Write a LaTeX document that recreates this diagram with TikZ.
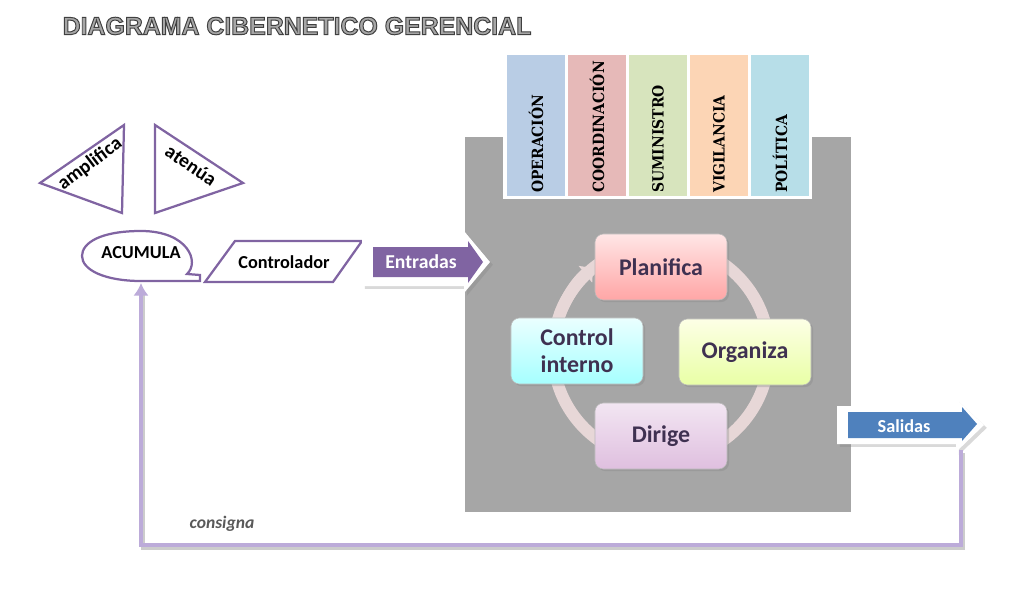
\documentclass[tikz,border=0pt]{standalone}
\usepackage{fontspec}
\setmainfont{Carlito}
\newfontfamily\titlefont{Liberation Sans}
\newfontfamily\colfont{DejaVu Serif}
\usetikzlibrary{shadows,
                 arrows.meta}
\definecolor{lila}{HTML}{8064A2}
\definecolor{lilaclaro}{HTML}{BCABD9}
\definecolor{azul}{HTML}{4F81BD}
\definecolor{gris}{HTML}{A6A6A6}
\definecolor{textocaja}{HTML}{3F3151}
\definecolor{opera}{HTML}{B9CDE5}
\definecolor{coord}{HTML}{E6B9B8}
\definecolor{sumin}{HTML}{D7E4BD}
\definecolor{vigil}{HTML}{FCD5B5}
\definecolor{polit}{HTML}{B7DEE8}
\newcommand\contorno[1]{\special{pdf:literal direct 2 Tr 0.7 w 0.25 G}#1\special{pdf:literal direct 0 Tr 0 G}}
\tikzset{trazo/.style = {draw=lila, line width=1.6pt, line join=miter},
         marco/.style = {fill=white, drop shadow={opacity=0.3, shadow xshift=2pt, shadow yshift=-2pt}},
         columna/.style = {rotate=90, anchor=west, inner sep=0pt, font=\colfont\bfseries\fontsize{11}{12}\selectfont},
         caja/.style = {draw=gray!55, rounded corners=6pt, minimum width=3.3cm, minimum height=1.65cm,
                        align=center, text=textocaja, font=\bfseries\fontsize{17}{19}\selectfont,
                        drop shadow={opacity=0.3, shadow xshift=1.5pt, shadow yshift=-1.5pt}},
         anillo/.style = {draw=red!25!gray!25, line width=8.5pt}}

\begin{document}
\begin{tikzpicture}[x=0.025cm, y=-0.025cm]
\useasboundingbox (0,0) rectangle (1012,599);
% titulo
\node[text=gris, font=\titlefont\bfseries\fontsize{17.7}{18}\selectfont] (titulo) at (297,26) {\contorno{DIAGRAMA CIBERNETICO GERENCIAL}};

% triangulos
\draw[trazo] (40,183) -- (124,125) -- (122,213) -- cycle;
\node[rotate=37, font=\bfseries\fontsize{14}{14}\selectfont] (amplifica) at (90,164) {amplifica};
\draw[trazo] (155,125) -- (243,183) -- (155,213) -- cycle;
\node[rotate=-34, font=\bfseries\fontsize{14}{14}\selectfont] (atenua) at (191,165) {atenúa};

% acumula y controlador
\draw[trazo] (141,281) -- (200,281) -- (200,275) -- (187,274)
  .. controls (200,262) and (188,231) .. (141,231)
  .. controls (100,231) and (82,243) .. (82,256)
  .. controls (82,270) and (105,281) .. (141,281) -- cycle;
\node[font=\bfseries\fontsize{13}{13}\selectfont] (acumula) at (141,253) {ACUMULA};
\draw[trazo] (205,282) -- (235,241) -- (362,241) -- (333,282) -- cycle;
\node[font=\bfseries\fontsize{13}{13}\selectfont] (controlador) at (284,262) {Controlador};

% bloque gris y columnas
\fill[gris] (465,137) rectangle (851,512);
\fill[white] (503,52) rectangle (812,199);
\foreach \x/\col/\txt [count=\i] in {507/opera/OPERACIÓN, 568/coord/COORDINACIÓN, 629/sumin/SUMINISTRO,
                                     690/vigil/VIGILANCIA, 751/polit/POLÍTICA}
{
  \fill[\col] (\x,55) rectangle ++(58,141);
  \node[columna] (col-\i) at (\x+29,193) {\scalebox{0.9}[1]{\txt}};
}

% entradas
\fill[marco] (362,239) -- (464,239) -- (464,231) -- (490,262) -- (464,293) -- (464,286) -- (362,286) -- cycle;
\fill[lila] (373,247) -- (468,247) -- (468,241) -- (483,262) -- (468,283) -- (468,277) -- (373,277) -- cycle;
\node[text=white, font=\bfseries\fontsize{14}{14}\selectfont] (entradas) at (421,262) {Entradas};

% ciclo
\draw[anillo] (661,352) circle (108);
\draw[anillo, -{Triangle[length=7pt, width=15pt]}] (661,352) ++(200:108) arc[start angle=200, end angle=231, radius=108];
\node[caja, top color=red!10, bottom color=red!35] (planifica) at (661,267) {Planifica};
\node[caja, top color=green!8!yellow!10, bottom color=green!25!yellow!35] (organiza) at (745,352) {Organiza};
\node[caja, top color=cyan!8, bottom color=cyan!35] (control) at (577,351) {Control\\interno};
\node[caja, top color=violet!10, bottom color=violet!25] (dirige) at (661,436) {Dirige};

% salidas
\fill[marco] (837,406) -- (956,406) -- (956,399) -- (984,425) -- (956,452) -- (956,444) -- (837,444) -- cycle;
\fill[azul] (848,412) -- (962,412) -- (962,407) -- (977,424) -- (962,441) -- (962,438) -- (848,438) -- cycle;
\node[text=white, font=\bfseries\fontsize{13}{13}\selectfont] (salidas) at (904,426) {Salidas};

% consigna
\coordinate (salida-base) at (961,450);
\coordinate (acumula-base) at (141,283);
\draw[black, opacity=0.2, line width=2.8pt] ([shift={(2,3)}]salida-base) |- ([shift={(2,3)}]acumula-base |- 0,545) -- ([shift={(2,12)}]acumula-base);
\draw[lilaclaro, line width=2.8pt, -{Latex[length=9pt, width=11pt]}] (salida-base) |- (0,545 -| acumula-base) -- (acumula-base);
\node[text=black!65, font=\bfseries\itshape\fontsize{12.5}{12}\selectfont] (consigna) at (222,524) {consigna};
\end{tikzpicture}
\end{document}
